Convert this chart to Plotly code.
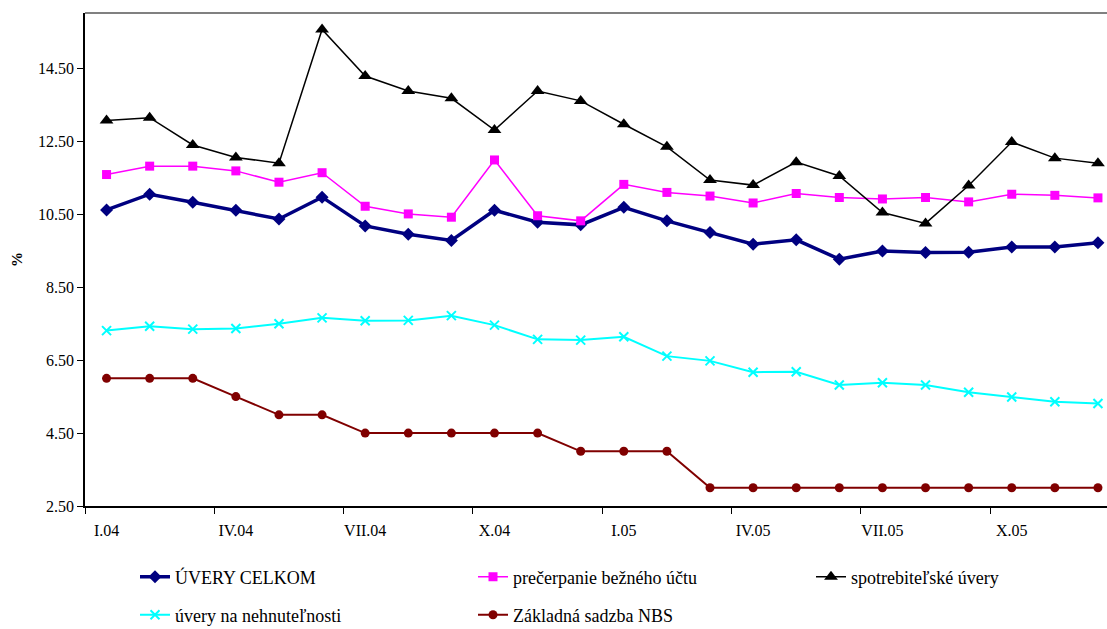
import plotly.graph_objects as go

# Monthly categories Jan 2004 – Dec 2005
roman = ["I", "II", "III", "IV", "V", "VI", "VII", "VIII", "IX", "X", "XI", "XII"]
months = [f"{m}.04" for m in roman] + [f"{m}.05" for m in roman]

# Interest rates (%)
uvery_celkom = [10.62, 11.05, 10.83, 10.61, 10.37, 10.97, 10.18, 9.95, 9.78, 10.61, 10.28, 10.21,
                10.69, 10.32, 10.00, 9.68, 9.80, 9.27, 9.49, 9.45, 9.46, 9.60, 9.60, 9.72]
precerpanie = [11.59, 11.82, 11.82, 11.69, 11.38, 11.64, 10.72, 10.51, 10.42, 11.99, 10.46, 10.32,
               11.32, 11.10, 11.00, 10.81, 11.07, 10.96, 10.92, 10.96, 10.84, 11.05, 11.02, 10.95]
spotrebitelske = [13.07, 13.15, 12.40, 12.06, 11.90, 15.57, 14.29, 13.88, 13.68, 12.81, 13.88, 13.61,
                  12.97, 12.35, 11.44, 11.30, 11.93, 11.55, 10.55, 10.25, 11.29, 12.48, 12.04, 11.90]
nehnutelnosti = [7.31, 7.43, 7.35, 7.37, 7.50, 7.66, 7.58, 7.59, 7.72, 7.46, 7.07, 7.05,
                 7.14, 6.61, 6.48, 6.17, 6.18, 5.82, 5.88, 5.82, 5.62, 5.49, 5.36, 5.31]
sadzba_nbs = [6.0, 6.0, 6.0, 5.5, 5.0, 5.0, 4.5, 4.5, 4.5, 4.5, 4.5, 4.0,
              4.0, 4.0, 3.0, 3.0, 3.0, 3.0, 3.0, 3.0, 3.0, 3.0, 3.0, 3.0]

FONT = "Liberation Serif, Times New Roman, serif"

fig = go.Figure()

fig.add_trace(go.Scatter(
    x=months, y=uvery_celkom, name="ÚVERY CELKOM", mode="lines+markers",
    line=dict(color="#000080", width=3.5),
    marker=dict(symbol="diamond", size=10, color="#000080"),
    legend="legend"))
fig.add_trace(go.Scatter(
    x=months, y=precerpanie, name="prečerpanie bežného účtu", mode="lines+markers",
    line=dict(color="#FF00FF", width=1.5),
    marker=dict(symbol="square", size=9, color="#FF00FF"),
    legend="legend"))
fig.add_trace(go.Scatter(
    x=months, y=spotrebitelske, name="spotrebiteľské úvery", mode="lines+markers",
    line=dict(color="#000000", width=1.5),
    marker=dict(symbol="triangle-up", size=12, color="#000000"),
    legend="legend"))
fig.add_trace(go.Scatter(
    x=months, y=nehnutelnosti, name="úvery na nehnuteľnosti", mode="lines+markers",
    line=dict(color="#00FFFF", width=2),
    marker=dict(symbol="x-thin", size=9, color="#00FFFF",
                line=dict(color="#00FFFF", width=2)),
    legend="legend2"))
fig.add_trace(go.Scatter(
    x=months, y=sadzba_nbs, name="Základná sadzba NBS", mode="lines+markers",
    line=dict(color="#800000", width=2),
    marker=dict(symbol="circle", size=9, color="#800000"),
    legend="legend2"))

# Top frame of the plot area
fig.add_shape(type="line", xref="paper", yref="paper", x0=0, x1=1, y0=1, y1=1,
              line=dict(color="#808080", width=2))

legend_common = dict(
    orientation="h", xref="container", yref="container",
    xanchor="left", yanchor="middle",
    entrywidth=293, entrywidthmode="pixels",
    font=dict(family=FONT, size=18, color="#000000"),
    bgcolor="rgba(0,0,0,0)", traceorder="normal",
)

fig.update_layout(
    width=1107, height=629,
    margin=dict(l=85, r=0, t=13, b=123),
    paper_bgcolor="white", plot_bgcolor="white",
    font=dict(family=FONT, size=16, color="#000000"),
    showlegend=True,
    legend=dict(x=135 / 1107, y=1 - 577 / 629, **legend_common),
    legend2=dict(x=135 / 1107, y=1 - 615 / 629, **legend_common),
    xaxis=dict(
        type="category", categoryorder="array", categoryarray=months,
        range=[-0.5, 23.21],
        tickmode="linear", tick0=0, dtick=3, tickson="boundaries",
        tickangle=0, ticklabelstandoff=9,
        ticks="outside", ticklen=6, tickcolor="#000000", tickwidth=1,
        showline=True, linecolor="#000000", linewidth=1.5,
        showgrid=False, zeroline=False,
        tickfont=dict(family=FONT, size=16, color="#000000"),
    ),
    yaxis=dict(
        range=[2.5, 16.02],
        tickmode="linear", tick0=2.5, dtick=2, tickformat=".2f",
        ticks="outside", ticklen=6, tickcolor="#000000", tickwidth=1,
        showline=True, linecolor="#000000", linewidth=1.5,
        showgrid=False, zeroline=False,
        tickfont=dict(family=FONT, size=16, color="#000000"),
        title=dict(text="<b>%</b>", font=dict(family=FONT, size=15, color="#000000"),
                   standoff=12),
    ),
)

fig.write_html("out.html")
